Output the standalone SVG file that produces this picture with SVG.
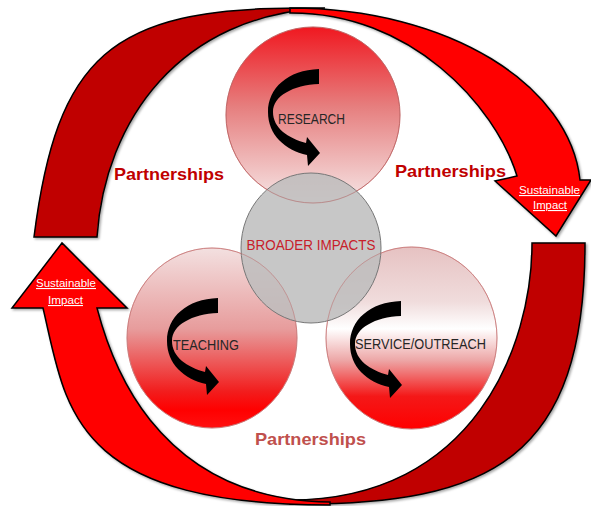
<svg xmlns="http://www.w3.org/2000/svg" width="591" height="506" viewBox="0 0 591 506">
  <defs>
    <linearGradient id="gResearch" x1="0" y1="0" x2="0" y2="1">
      <stop offset="0" stop-color="#F01820"/>
      <stop offset="0.45" stop-color="#E67E7E"/>
      <stop offset="1" stop-color="#F6E6E6"/>
    </linearGradient>
    <linearGradient id="gTeaching" x1="0" y1="0" x2="0" y2="1">
      <stop offset="0" stop-color="#F3E0E0"/>
      <stop offset="0.45" stop-color="#E79C9C"/>
      <stop offset="0.8" stop-color="#F21C1C"/>
      <stop offset="0.9" stop-color="#FF0000"/>
      <stop offset="1" stop-color="#FF1010"/>
    </linearGradient>
    <linearGradient id="gService" x1="0" y1="0" x2="0" y2="1">
      <stop offset="0" stop-color="#E6C2C2"/>
      <stop offset="0.3" stop-color="#F0DCDC"/>
      <stop offset="0.45" stop-color="#FFFFFF"/>
      <stop offset="0.62" stop-color="#EDA8A8"/>
      <stop offset="0.82" stop-color="#F41818"/>
      <stop offset="1" stop-color="#FF0000"/>
    </linearGradient>
    <filter id="shadow" x="-10%" y="-10%" width="120%" height="120%">
      <feDropShadow dx="1.5" dy="1.5" stdDeviation="1" flood-color="#000" flood-opacity="0.35"/>
    </filter>
    <path id="carrow" d="M0,0 C-31,1 -51,19 -51,43 C-51,66 -34,81 -12,86 L-11,97 L1,84 L-12,68 L-13,74 C-31,69 -46,59 -46,43 C-46,27 -26,16 0,15 Z"/>
    <style>
      .dark { fill: #C00000; stroke: #000; stroke-width: 1.5; stroke-linejoin: miter; }
      .bright { fill: #FF0000; stroke: #000; stroke-width: 1.5; stroke-linejoin: miter; }
      .circ { stroke-width: 0.8; }
      .label { font-family: "Liberation Sans", Arial, sans-serif; font-size: 14px; fill: #262626; text-anchor: middle; }
      .partner { font-family: "Liberation Sans", Arial, sans-serif; font-size: 17px; font-weight: bold; fill: #C00000; text-anchor: middle; }
      .sust { font-family: "Liberation Sans", Arial, sans-serif; font-size: 11px; fill: #FFFFFF; text-anchor: middle; text-decoration: underline; }
      .carrow { fill: #000; }
    </style>
  </defs>

  <g id="connectors" filter="url(#shadow)">
    <!-- top back arc (dark) -->
    <path class="dark" d="M34,237 C57,57 110,8 300,8 L325,8 C180,15 105,120 97,237 Z"/>
    <!-- bottom back arc (dark) -->
    <path class="dark" d="M585,243 C585,458 492,506 290,504 L290,500 C474,500 532,346 532,243 Z"/>
    <!-- top front arrow (bright), pointing down at right -->
    <path class="bright" d="M290,8 C450,8 570,86 580,180 L591,180 L556,236 L495,181 L517,176 C495,105 410,12 290,13 Z"/>
    <!-- bottom front arrow (bright), pointing up at left -->
    <path class="bright" d="M330,505 C68,505 66,405 43,308 L12,308 L62,243 L127,308 L97,308 C108,350 150,500 330,502 Z"/>
  </g>

  <g id="node-research">
    <ellipse class="circ" cx="313" cy="115" rx="87" ry="88" fill="url(#gResearch)" stroke="#C86060"/>
  </g>
  <g id="node-teaching">
    <ellipse class="circ" cx="212" cy="338" rx="85" ry="90" fill="url(#gTeaching)" stroke="#D08080"/>
  </g>
  <g id="node-service">
    <ellipse class="circ" cx="411.5" cy="338" rx="85.5" ry="91" fill="url(#gService)" stroke="#D08080"/>
  </g>
  <g id="node-broader">
    <ellipse cx="311" cy="248" rx="70" ry="75" fill="#BDBDBD" fill-opacity="0.85" stroke="#777" stroke-width="1"/>
    <text x="311" y="249.5" textLength="129" lengthAdjust="spacingAndGlyphs" style="font-family:'Liberation Sans',Arial,sans-serif;font-size:14.5px;fill:#C8202A;text-anchor:middle">BROADER IMPACTS</text>
  </g>

  <g id="overlap-outlines" fill="none" stroke-width="0.8">
    <ellipse cx="313" cy="115" rx="87" ry="88" stroke="#B06060" stroke-opacity="0.6"/>
    <ellipse cx="212" cy="338" rx="85" ry="90" stroke="#C07070" stroke-opacity="0.6"/>
    <ellipse cx="411.5" cy="338" rx="85.5" ry="91" stroke="#C07070" stroke-opacity="0.6"/>
  </g>

  <g id="node-research-label">
    <use href="#carrow" class="carrow" transform="translate(319,69)"/>
    <text class="label" x="311.5" y="124" textLength="67" lengthAdjust="spacingAndGlyphs">RESEARCH</text>
  </g>
  <g id="node-teaching-label">
    <use href="#carrow" class="carrow" transform="translate(218,298)"/>
    <text class="label" x="206" y="350" textLength="66" lengthAdjust="spacingAndGlyphs">TEACHING</text>
  </g>
  <g id="node-service-label">
    <use href="#carrow" class="carrow" transform="translate(401,301)"/>
    <text class="label" x="420.5" y="349" textLength="131" lengthAdjust="spacingAndGlyphs">SERVICE/OUTREACH</text>
  </g>

  <g id="labels">
    <text class="partner" x="169" y="180" textLength="110" lengthAdjust="spacingAndGlyphs">Partnerships</text>
    <text class="partner" x="450.5" y="177" textLength="111" lengthAdjust="spacingAndGlyphs">Partnerships</text>
    <text class="partner" x="310.5" y="445" textLength="111" lengthAdjust="spacingAndGlyphs" style="fill:#C0504D">Partnerships</text>
    <text class="sust" x="549.5" y="194" textLength="61" lengthAdjust="spacingAndGlyphs">Sustainable</text>
    <text class="sust" x="550" y="209" textLength="34" lengthAdjust="spacingAndGlyphs">Impact</text>
    <text class="sust" x="66" y="287" textLength="60" lengthAdjust="spacingAndGlyphs">Sustainable</text>
    <text class="sust" x="65.5" y="304" textLength="35" lengthAdjust="spacingAndGlyphs">Impact</text>
  </g>
</svg>
